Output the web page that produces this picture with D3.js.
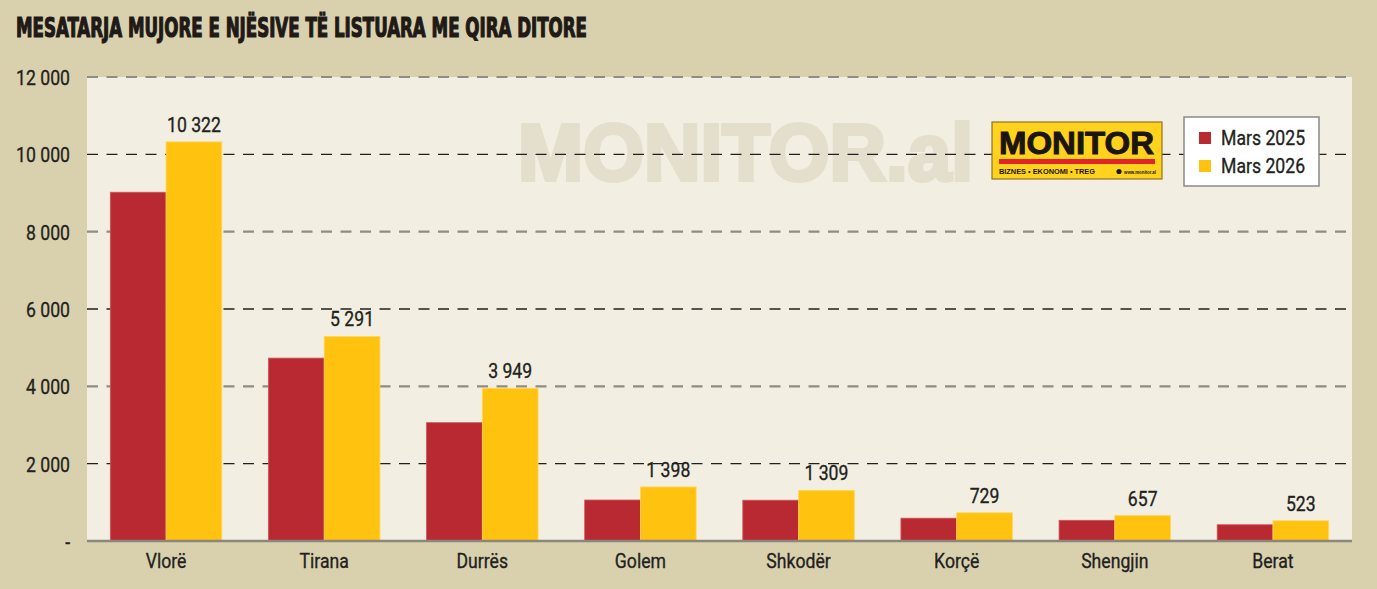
<!DOCTYPE html>
<html>
<head>
<meta charset="utf-8">
<script src="https://cdn.jsdelivr.net/npm/d3@7"></script>
<style>
  body { margin: 0; background: #d9d1ae; }
  text { font-family: Roboto, "DejaVu Sans Condensed", sans-serif; fill: #231f20; }
  .med { font-weight: 400; stroke: #231f20; stroke-width: 0.35px; }
</style>
</head>
<body>
<div id="chart"></div>
<script>
// values
var categories = ["Vlorë", "Tirana", "Durrës", "Golem", "Shkodër", "Korçë", "Shengjin", "Berat"];
var mars2025 = [9020, 4730, 3060, 1060, 1055, 590, 535, 420];
var mars2026 = [10322, 5291, 3949, 1398, 1309, 729, 657, 523];
var seriesNames = ["Mars 2025", "Mars 2026"];
var seriesColors = ["#b92931", "#ffc20f"];
var yTicks = [0, 2000, 4000, 6000, 8000, 10000, 12000];

var width = 1377, height = 589;
var plotLeft = 87, plotRight = 1352, plotTop = 77, plotBottom = 541;
var squeeze = "scale(0.84,1)"; //fake condensed type

var svg = d3.select("#chart").append("svg")
    .attr("width", width)
    .attr("height", height);

svg.append("rect").attr("width", width).attr("height", height).attr("fill", "#d9d1ae");

//title
svg.append("text")
    .attr("x", 16).attr("y", 37)
    .attr("textLength", 571).attr("lengthAdjust", "spacingAndGlyphs")
    .style("font-family", "'DejaVu Sans Condensed', sans-serif")
    .style("font-weight", "bold")
    .style("font-size", "26px")
    .style("fill", "#1f1a17")
    .style("stroke", "#1f1a17").style("stroke-width", 1.2)
    .text("MESATARJA MUJORE E NJËSIVE TË LISTUARA ME QIRA DITORE");

//scales
var x0 = d3.scaleBand().domain(categories).range([plotLeft, plotRight]).paddingInner(0.295).paddingOuter(0.1475);
var x1 = d3.scaleBand().domain(seriesNames).range([0, x0.bandwidth()]);
var y = d3.scaleLinear().domain([0, 12000]).range([plotBottom, plotTop]);

var fmt = function(v) { return v === 0 ? "-" : d3.format(",")(v).replace(/,/g, " "); };

//plot background
svg.append("rect")
    .attr("x", plotLeft).attr("y", plotTop)
    .attr("width", plotRight - plotLeft).attr("height", plotBottom - plotTop)
    .attr("fill", "#f2efe2");

//watermark
svg.append("text")
    .attr("x", 518).attr("y", 180)
    .attr("textLength", 455).attr("lengthAdjust", "spacingAndGlyphs")
    .style("font-family", "'Liberation Sans', sans-serif")
    .style("font-weight", "bold")
    .style("font-size", "80px")
    .style("fill", "#e4dfcc")
    .style("stroke", "#e4dfcc").style("stroke-width", 4)
    .text("MONITOR.al");

//gridlines: gray and black alternate
svg.append("g")
    .selectAll("line")
    .data(yTicks.filter(function(d) { return d > 0; }))
    .enter().append("line")
    .attr("x1", plotLeft).attr("x2", plotRight)
    .attr("y1", function(d) { return y(d); })
    .attr("y2", function(d) { return y(d); })
    .attr("stroke", function(d) { return (d / 2000) % 2 === 0 ? "#8e8c84" : "#231f20"; })
    .attr("stroke-width", function(d) { return (d / 2000) % 2 === 0 ? 2.2 : 1.3; })
    .attr("stroke-dasharray", "11,8.5");

//y axis labels
var yAxis = svg.append("g")
    .attr("transform", "translate(" + (plotLeft - 17) + ",0)")
    .call(d3.axisLeft(y).tickValues(yTicks).tickFormat(fmt).tickSize(0).tickPadding(0));
yAxis.select(".domain").remove();
yAxis.selectAll("text")
    .attr("class", "med")
    .style("font-size", "21px")
    .attr("dy", "0.35em")
    .attr("transform", squeeze);

//bars
var groups = svg.append("g").selectAll("g")
    .data(categories)
    .enter().append("g")
    .attr("transform", function(d) { return "translate(" + x0(d) + ",0)"; });

groups.selectAll("rect")
    .data(function(d, i) { return [mars2025[i], mars2026[i]]; })
    .enter().append("rect")
    .attr("x", function(d, j) { return x1(seriesNames[j]); })
    .attr("y", function(d) { return y(d); })
    .attr("width", x1.bandwidth())
    .attr("height", function(d) { return plotBottom - y(d); })
    .attr("fill", function(d, j) { return seriesColors[j]; })
    .attr("stroke", function(d, j) { return j === 0 ? "#d0545a" : "#ffd75a"; })
    .attr("stroke-width", 0.8);

//value labels on 2026 bars
groups.append("text")
    .attr("class", "med")
    .attr("transform", function(d, i) {
      return "translate(" + (x1(seriesNames[1]) + x1.bandwidth() / 2) + "," + (y(mars2026[i]) - 10) + ")" + squeeze;
    })
    .attr("text-anchor", "middle")
    .style("font-size", "21px")
    .text(function(d, i) { return fmt(mars2026[i]); });

//baseline
svg.append("line")
    .attr("x1", plotLeft).attr("x2", plotRight)
    .attr("y1", plotBottom).attr("y2", plotBottom)
    .attr("stroke", "#8a877c").attr("stroke-width", 2.5);

//category labels
var xAxis = svg.append("g")
    .attr("transform", "translate(0," + plotBottom + ")")
    .call(d3.axisBottom(x0).tickSize(0).tickPadding(12));
xAxis.select(".domain").remove();
xAxis.selectAll("text")
    .attr("class", "med")
    .style("font-size", "21px")
    .attr("dy", "0.71em")
    .attr("transform", squeeze);

//logo
var logo = svg.append("g").attr("transform", "translate(992,122)");
logo.append("rect").attr("width", 170).attr("height", 57)
    .attr("fill", "#ffd31d").attr("stroke", "#8f7420").attr("stroke-width", 1.2);
logo.append("text")
    .attr("x", 7).attr("y", 32)
    .attr("textLength", 155).attr("lengthAdjust", "spacingAndGlyphs")
    .style("font-family", "'Liberation Sans', sans-serif")
    .style("font-weight", "bold").style("font-size", "32px").style("fill", "#1b1510")
    .style("stroke", "#1b1510").style("stroke-width", 1)
    .text("MONITOR");
logo.append("rect").attr("x", 7).attr("y", 37).attr("width", 156).attr("height", 5).attr("fill", "#e2242b");
logo.append("text")
    .attr("x", 7).attr("y", 52)
    .attr("textLength", 96).attr("lengthAdjust", "spacingAndGlyphs")
    .style("font-family", "'Liberation Sans', sans-serif")
    .style("font-size", "7px").style("font-weight", "bold").style("fill", "#1b1510")
    .text("BIZNES  •  EKONOMI  •  TREG");
logo.append("circle").attr("cx", 127).attr("cy", 49.5).attr("r", 2.6).attr("fill", "#1b1510");
logo.append("text")
    .attr("x", 132).attr("y", 52)
    .attr("textLength", 32).attr("lengthAdjust", "spacingAndGlyphs")
    .style("font-family", "'Liberation Sans', sans-serif")
    .style("font-size", "6px").style("font-weight", "bold").style("fill", "#1b1510")
    .text("www.monitor.al");

//legend
var legend = svg.append("g").attr("transform", "translate(1184,117)");
legend.append("rect").attr("width", 135).attr("height", 69)
    .attr("fill", "#ffffff").attr("stroke", "#8c8b86").attr("stroke-width", 1.5);
var items = legend.selectAll(".item")
    .data(seriesNames)
    .enter().append("g")
    .attr("class", "item")
    .attr("transform", function(d, i) { return "translate(15," + (15 + i * 28) + ")"; });
items.append("rect").attr("width", 12).attr("height", 12)
    .attr("fill", function(d, i) { return seriesColors[i]; });
items.append("text")
    .attr("class", "med")
    .attr("transform", "translate(22,13)" + squeeze)
    .style("font-size", "21px")
    .text(function(d) { return d; });
</script>
</body>
</html>
